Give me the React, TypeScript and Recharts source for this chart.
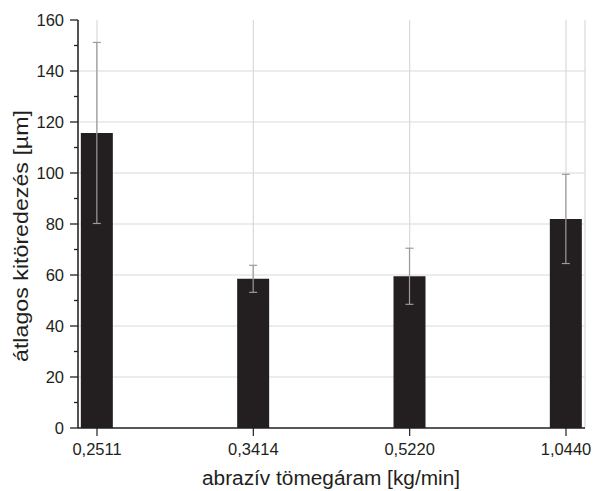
import {Bar, BarChart, CartesianGrid, ErrorBar, XAxis, YAxis} from 'recharts';

// abrasive mass flow rate [kg/min]
const flowRates = ['0,2511', '0,3414', '0,5220', '1,0440'];
// mean chipping [µm] and its error
const meanChipping = [115.7, 58.5, 59.5, 82.0];
const chippingError = [35.5, 5.3, 11.0, 17.5];

const yTicks = [0, 10, 20, 30, 40, 50, 60, 70, 80, 90, 100, 110, 120, 130, 140, 150, 160];
const gridValues = [20, 40, 60, 80, 100, 120, 140];

const ink = '#231f20';
const font = '"Liberation Sans", Arial, sans-serif';

const data = flowRates.map((rate, i) => ({
  rate,
  mean: meanChipping[i],
  err: chippingError[i],
}));

function YTick(props: any) {
  const {x, y, payload} = props;
  const value = payload.value as number;
  const major = value % 20 === 0;
  return (
    <g>
      <line x1={x} x2={x - (major ? 8 : 4)} y1={y} y2={y} stroke={ink} strokeWidth={1.3} />
      {major && (
        <text x={x - 14} y={y} dy="0.36em" textAnchor="end" fill={ink} fontSize={16.5} fontFamily={font}>
          {value}
        </text>
      )}
    </g>
  );
}

function XTick(props: any) {
  const {x, y, payload} = props;
  return (
    <text x={x} y={y} dy="0.72em" textAnchor="middle" fill={ink} fontSize={16.5} fontFamily={font}>
      {payload.value}
    </text>
  );
}

export default function App() {
  return (
    <div style={{position: 'absolute', left: 0, top: 0, background: '#fff'}}>
      <BarChart
        width={594}
        height={491}
        data={data}
        margin={{top: 20, right: 9, bottom: 28, left: 0}}
      >
        <CartesianGrid stroke="#d9d9d9" strokeWidth={1.2} horizontalValues={gridValues} />
        <XAxis
          dataKey="rate"
          scale="point"
          padding={{left: 19, right: 19}}
          height={35}
          tickSize={8}
          tickMargin={7}
          axisLine={{stroke: ink, strokeWidth: 1.5}}
          tickLine={{stroke: ink, strokeWidth: 1.2}}
          tick={<XTick />}
          interval={0}
          label={{
            content: () => (
              <text
                x={331}
                y={485}
                textAnchor="middle"
                fill={ink}
                fontSize={20}
                fontFamily={font}
                textLength={258}
                lengthAdjust="spacingAndGlyphs"
              >
                abrazív tömegáram [kg/min]
              </text>
            ),
          }}
        />
        <YAxis
          width={78}
          domain={[0, 160]}
          ticks={yTicks}
          interval={0}
          tickSize={0}
          tickMargin={0}
          tickLine={false}
          axisLine={{stroke: ink, strokeWidth: 1.5}}
          tick={<YTick />}
          label={{
            content: () => (
              <text
                x={28}
                y={236}
                transform="rotate(-90 28 236)"
                textAnchor="middle"
                fill={ink}
                fontSize={20}
                fontFamily={font}
                textLength={252}
                lengthAdjust="spacingAndGlyphs"
              >
                átlagos kitöredezés [µm]
              </text>
            ),
          }}
        />
        <Bar dataKey="mean" fill={ink} barSize={32} isAnimationActive={false}>
          <ErrorBar dataKey="err" width={4} stroke="#9b9b9b" strokeWidth={1.2} />
        </Bar>
      </BarChart>
    </div>
  );
}
